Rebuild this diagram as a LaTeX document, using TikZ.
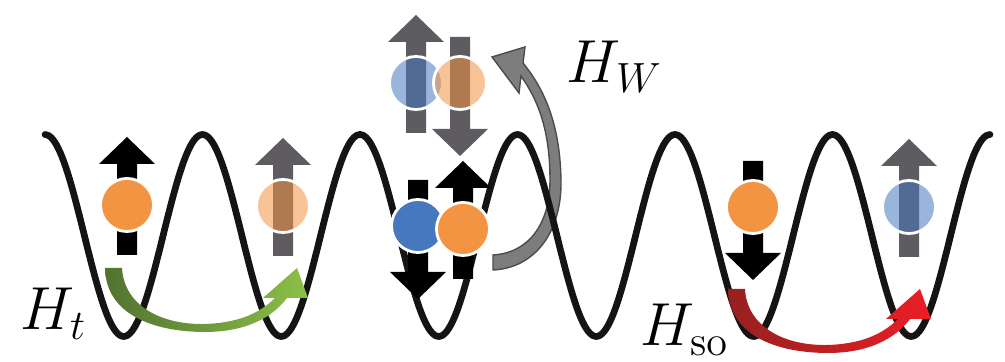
\documentclass[tikz,border=0pt]{standalone}
\definecolor{dotorange}{RGB}{242,148,66}
\definecolor{dotblue}{RGB}{70,120,190}
\definecolor{spingray}{RGB}{95,92,97}
\definecolor{hopgray}{RGB}{125,125,125}
\definecolor{greenA}{RGB}{82,115,48}
\definecolor{greenB}{RGB}{140,192,72}
\definecolor{redA}{RGB}{150,32,32}
\definecolor{redB}{RGB}{236,30,36}
\tikzset{
  wave/.style={line width=1.9pt, line cap=round, black!92},
  dot/.style={circle, draw=white, line width=0.8pt, minimum size=0.53cm, inner sep=0pt},
  ghost/.style={dot, fill opacity=0.55},
  hterm/.style={anchor=base west, inner sep=0pt, font=\fontsize{17.28}{21}\selectfont},
  % block arrows for the spins, origin at the particle centre
  spinup/.pic={\fill (-10,50) -- (-10,-41) -- (-28,-41) -- (0,-68) -- (28,-41) -- (10,-41) -- (10,50) -- cycle;},
  spindown/.pic={\fill (-10,-46) -- (-10,46) -- (-28,46) -- (0,73) -- (28,46) -- (10,46) -- (10,-46) -- cycle;}
}
\begin{document}
\begin{tikzpicture}[x=0.01cm, y=-0.01cm]
\useasboundingbox (0,0) rectangle (1005,362);

% interaction hop H_W (behind the lattice potential)
\filldraw[fill=hopgray, draw=black!70, line width=0.4pt]
  (493,270) .. controls (535,268) and (562,232) .. (561,180)
  .. controls (560,125) and (545,90) .. (523,63)
  -- (525,47) -- (492,57) -- (519,93) -- (521,76)
  .. controls (538,100) and (550,130) .. (550,180)
  .. controls (550,225) and (528,253) .. (493,255) -- cycle;

% lattice potential: six wells, period 157.5
\draw[wave] plot[domain=45:990, samples=241, smooth] (\x, {235.5-101*cos(2.285714*(\x-45))});

% site 1: spin up
\pic[black] at (127,205) {spinup};
\node[dot, fill=dotorange] (a1) at (127,205) {};
% site 2: hopped spin up
\pic[spingray] at (283,206) {spinup};
\node[ghost, fill=dotorange] (a2) at (283,206) {};

% doubly occupied site
\pic[black] at (418,226) {spindown};
\pic[black] at (463,229) {spinup};
\node[dot, fill=dotblue] (b1) at (418,226) {};
\node[dot, fill=dotorange] (b2) at (463,229) {};

% flipped pair after H_W
\pic[spingray] at (416,83) {spinup};
\pic[spingray] at (460,83) {spindown};
\node[ghost, fill=dotblue] (c1) at (416,83) {};
\node[ghost, fill=dotorange] (c2) at (460,83) {};

% spin-orbit hop
\pic[black] at (753,207) {spindown};
\node[dot, fill=dotorange] (d1) at (753,207) {};
\pic[spingray] at (909,207) {spinup};
\node[ghost, fill=dotblue] (d2) at (909,207) {};

% hopping arrow H_t
\shade[left color=greenA, right color=greenB]
  (105,268) .. controls (106,318) and (160,332) .. (205,332)
  .. controls (245,332) and (272,318) .. (287,298)
  -- (308,298) -- (297,268) -- (263,298) -- (275,298)
  .. controls (258,315) and (235,323) .. (205,324)
  .. controls (160,325) and (124,305) .. (122,268) -- cycle;

% hopping arrow H_so
\begin{scope}[shift={(623,21)}]
\shade[left color=redA, right color=redB]
  (105,268) .. controls (106,318) and (160,332) .. (205,332)
  .. controls (245,332) and (272,318) .. (287,298)
  -- (308,298) -- (297,268) -- (263,298) -- (275,298)
  .. controls (258,315) and (235,323) .. (205,324)
  .. controls (160,325) and (124,305) .. (122,268) -- cycle;
\end{scope}

% labels
\node[hterm] (ht) at (20,330) {$H_t$};
\node[hterm] (hw) at (566,83) {$H_W$};
\node[hterm] (hso) at (640,346) {$H_{\mathrm{so}}$};
\end{tikzpicture}
\end{document}
